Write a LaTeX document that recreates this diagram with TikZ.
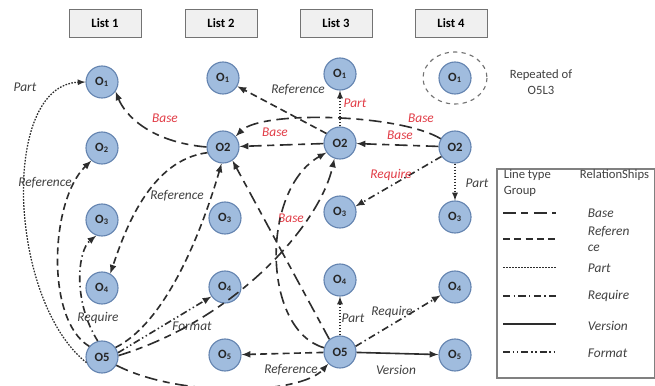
\documentclass[tikz,border=0pt]{standalone}
\usepackage{fontspec}
\setmainfont{Carlito}
\usetikzlibrary{arrows}
\definecolor{objfill}{RGB}{160,188,222}
\definecolor{objline}{RGB}{100,132,176}
\definecolor{relred}{RGB}{225,60,70}
\definecolor{linegray}{RGB}{45,45,45}
\begin{document}
\begin{tikzpicture}[x=0.025cm,y=-0.025cm,
    obj/.style={circle,draw=objline,fill=objfill,line width=0.8pt,minimum size=0.8cm,inner sep=0pt,font=\small\bfseries,text=black!85},
    listbox/.style={draw=black!55,fill=black!6,minimum width=1.8cm,minimum height=0.7cm,font=\small\bfseries},
    rel/.style={linegray,line width=1.15pt,-latex},
    baserel/.style={rel,dash pattern=on 9pt off 4pt on 5pt off 4pt},
    refrel/.style={rel,dash pattern=on 5pt off 3pt},
    partrel/.style={rel,densely dotted},
    reqrel/.style={rel,dash pattern=on 5pt off 2.5pt on 1pt off 2.5pt},
    verrel/.style={rel},
    fmtrel/.style={rel,dash pattern=on 5pt off 2pt on 1pt off 2pt on 1pt off 2pt},
    lbl/.style={font=\fontsize{9.5}{11}\selectfont\itshape,text=black!75},
    redlbl/.style={lbl,text=relred}]
    \useasboundingbox (0,0) rectangle (655,386);
    %% list headers
    \node[listbox] (list1) at (105,23) {List 1};
    \node[listbox] (list2) at (221,23) {List 2};
    \node[listbox] (list3) at (336,23) {List 3};
    \node[listbox] (list4) at (451,23) {List 4};
    %% list 1
    \node[obj] (l1o1) at (102,82) {O\textsubscript{1}};
    \node[obj] (l1o2) at (102,148) {O\textsubscript{2}};
    \node[obj] (l1o3) at (102,220) {O\textsubscript{3}};
    \node[obj] (l1o4) at (102,288) {O\textsubscript{4}};
    \node[obj] (l1o5) at (102,357) {O5};
    %% list 2
    \node[obj] (l2o1) at (223,78) {O\textsubscript{1}};
    \node[obj] (l2o2) at (223,147) {O2};
    \node[obj] (l2o3) at (225,218) {O\textsubscript{3}};
    \node[obj] (l2o4) at (225,287) {O\textsubscript{4}};
    \node[obj] (l2o5) at (225,355) {O\textsubscript{5}};
    %% list 3
    \node[obj] (l3o1) at (340,74) {O\textsubscript{1}};
    \node[obj] (l3o2) at (340,143) {O2};
    \node[obj] (l3o3) at (340,212) {O\textsubscript{3}};
    \node[obj] (l3o4) at (340,280) {O\textsubscript{4}};
    \node[obj] (l3o5) at (340,352) {O5};
    %% list 4
    \node[obj] (l4o1) at (455,78) {O\textsubscript{1}};
    \draw[black!55,dashed,line width=0.8pt] (l4o1) ellipse (32 and 26);
    \node[font=\small,text=black!75,align=center] (repnote) at (541,82) {Repeated of\\O5L3};
    \node[obj] (l4o2) at (455,147) {O2};
    \node[obj] (l4o3) at (455,217) {O\textsubscript{3}};
    \node[obj] (l4o4) at (455,287) {O\textsubscript{4}};
    \node[obj] (l4o5) at (455,355) {O\textsubscript{5}};
    %% relations of list 1
    \draw[partrel,line width=0.9pt] (l1o5.200) .. controls (8,300) and (0,85) .. (l1o1.west);
    \node[lbl] (partlbla) at (25,87) {Part};
    \draw[refrel] (l1o5.140) .. controls (45,320) and (50,200) .. (l1o2.230);
    \node[lbl] (reflbla) at (45,183) {Reference};
    \draw[reqrel] (l1o5.105) .. controls (72,300) and (78,250) .. (l1o3.250);
    \node[lbl] (reqlbla) at (98,318) {Require};
    \draw[refrel] (l1o5.35) .. controls (170,320) and (205,220) .. (l2o2.265);
    \draw[fmtrel] (l1o5.15) -- (l2o4.215);
    \node[lbl] (fmtlbl) at (192,326) {Format};
    \draw[baserel] (l1o5.5) .. controls (235,320) and (320,225) .. (l3o2.250);
    \draw[baserel] (l1o5.-30) .. controls (180,398) and (300,395) .. (l3o5.225);
    %% relations of list 2
    \draw[baserel] (l2o2.west) .. controls (150,142) and (125,115) .. (l1o1.-35);
    \node[redlbl] (baselbla) at (165,118) {Base};
    \draw[refrel] (l2o2.200) .. controls (150,160) and (125,230) .. (l1o4.60);
    \node[lbl] (reflblb) at (177,196) {Reference};
    %% relations of list 3
    \draw[refrel] (l3o2.145) -- (l2o1.-30);
    \node[lbl] (reflblc) at (298,90) {Reference};
    \draw[partrel,line width=0.9pt] (l3o2) -- (l3o1);
    \node[redlbl] (partlblb) at (355,103) {Part};
    \draw[baserel] (l3o2) -- (l2o2);
    \node[redlbl] (baselblb) at (275,132) {Base};
    \draw[baserel] (l3o5.130) -- (l2o2.-55);
    \node[redlbl] (baselblc) at (291,218) {Base};
    \draw[baserel] (l3o5.165) .. controls (262,330) and (260,190) .. (l3o2.215);
    \draw[refrel] (l3o5) -- (l2o5);
    \node[lbl] (reflbld) at (291,370) {Reference};
    \draw[partrel,line width=0.9pt] (l3o5) -- (l3o4);
    \node[lbl] (partlblc) at (353,318) {Part};
    \draw[reqrel] (l3o5.20) -- (l4o4.210);
    \node[lbl] (reqlblb) at (392,312) {Require};
    \draw[verrel] (l3o5) -- (l4o5);
    \node[lbl] (verlbl) at (396,370) {Version};
    %% relations of list 4
    \draw[baserel] (l4o2.150) .. controls (400,114) and (262,110) .. (l2o2.40);
    \node[redlbl] (baselbld) at (421,118) {Base};
    \draw[baserel] (l4o2) -- (l3o2);
    \node[redlbl] (baselble) at (400,135) {Base};
    \draw[reqrel] (l4o2.215) -- (l3o3.20);
    \node[redlbl] (reqlblc) at (391,175) {Require};
    \draw[partrel,line width=0.9pt] (l4o2) -- (l4o3);
    \node[lbl] (partlbld) at (477,183) {Part};
    %% legend
    \draw[black!50,line width=0.8pt] (497,169) rectangle (654.5,378);
    \node[font=\small,text=black!75,anchor=west] (legtype) at (499,175) {Line type};
    \node[font=\small,text=black!75,anchor=west] (leggroup) at (499,191) {Group};
    \node[font=\small,text=black!75,anchor=west] (legrel) at (575,175) {RelationShips};
    \draw[baserel,-] (503,213) -- (556,213);
    \node[lbl,anchor=west] (legbase) at (583,213) {Base};
    \draw[refrel,-] (503,239) -- (556,239);
    \node[lbl,anchor=west,align=left] (legref) at (583,239) {Referen\\ce};
    \draw[partrel,-,line width=0.6pt] (503,267) -- (556,267);
    \node[lbl,anchor=west] (legpart) at (583,268) {Part};
    \draw[reqrel,-] (503,296) -- (556,296);
    \node[lbl,anchor=west] (legreq) at (583,296) {Require};
    \draw[verrel,-] (503,324) -- (556,324);
    \node[lbl,anchor=west] (legver) at (583,326) {Version};
    \draw[fmtrel,-] (503,352) -- (556,352);
    \node[lbl,anchor=west] (legfmt) at (583,353) {Format};
\end{tikzpicture}
\end{document}
